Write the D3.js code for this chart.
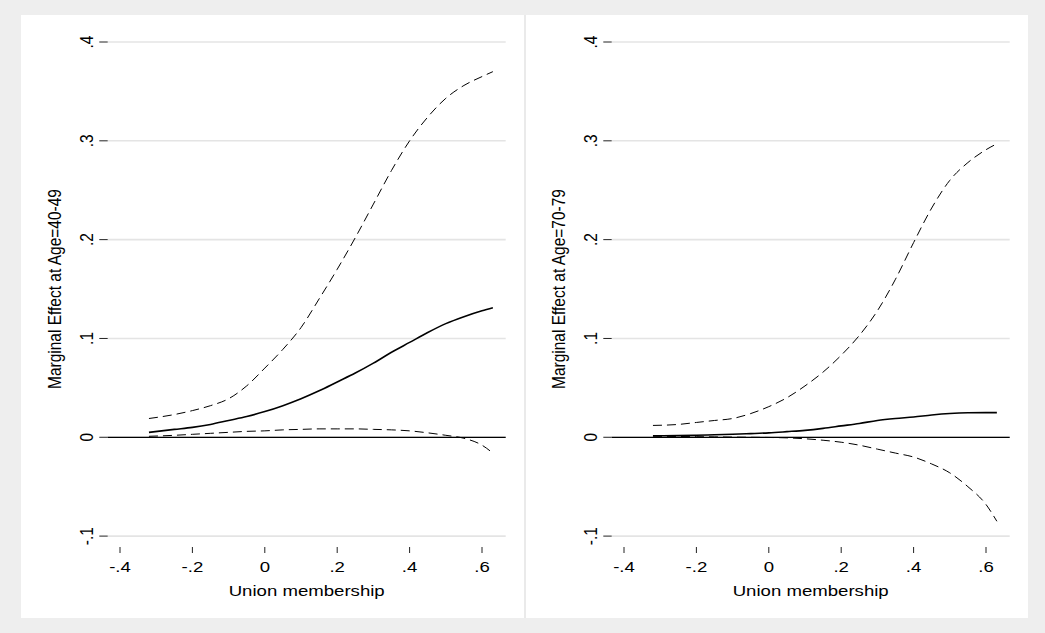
<!DOCTYPE html>
<html>
<head>
<meta charset="utf-8">
<script src="https://cdn.jsdelivr.net/npm/d3@7"></script>
<style>
  html, body { margin: 0; padding: 0; background: #eeeeee; }
  svg { display: block; }
  text { font-family: "Liberation Sans", Arial, Helvetica, sans-serif; fill: #000; }
</style>
</head>
<body>
<svg id="chart" width="1045" height="633"></svg>
<script>
// ---------------- data ----------------
const unionX = [-0.32, -0.25, -0.2, -0.15, -0.1, -0.05, 0, 0.05, 0.1, 0.15, 0.2, 0.25, 0.3, 0.35, 0.4, 0.45, 0.5, 0.55, 0.6, 0.63];

// Panel 1: Age 40-49
const age4049Effect = [0.005, 0.008, 0.010, 0.013, 0.017, 0.021, 0.026, 0.032, 0.039, 0.047, 0.056, 0.065, 0.075, 0.086, 0.096, 0.106, 0.115, 0.122, 0.128, 0.131];
const age4049Upper  = [0.019, 0.023, 0.027, 0.032, 0.039, 0.052, 0.070, 0.089, 0.111, 0.140, 0.170, 0.202, 0.236, 0.270, 0.300, 0.324, 0.343, 0.356, 0.365, 0.370];
const age4049Lower  = [0.001, 0.002, 0.003, 0.004, 0.005, 0.006, 0.0065, 0.0075, 0.008, 0.0085, 0.0085, 0.0085, 0.008, 0.0075, 0.0065, 0.0045, 0.002, -0.001, -0.008, -0.016];

// Panel 2: Age 70-79
const age7079Effect = [0.0015, 0.0017, 0.002, 0.0025, 0.003, 0.0037, 0.0045, 0.0057, 0.007, 0.009, 0.0115, 0.014, 0.017, 0.019, 0.0205, 0.0225, 0.024, 0.0248, 0.025, 0.025];
const age7079Upper  = [0.012, 0.013, 0.015, 0.017, 0.019, 0.024, 0.031, 0.040, 0.052, 0.066, 0.083, 0.103, 0.128, 0.160, 0.197, 0.232, 0.260, 0.278, 0.291, 0.297];
const age7079Lower  = [0.001, 0.0008, 0.0006, 0.0004, 0.0002, 0.0, -0.0002, -0.0006, -0.0015, -0.003, -0.005, -0.008, -0.012, -0.016, -0.020, -0.027, -0.036, -0.050, -0.068, -0.085];

const xTicks = [-0.4, -0.2, 0, 0.2, 0.4, 0.6];
const xTickLabels = ["-.4", "-.2", "0", ".2", ".4", ".6"];
const yTicks = [-0.1, 0, 0.1, 0.2, 0.3, 0.4];
const yTickLabels = ["-.1", "0", ".1", ".2", ".3", ".4"];
const xTitle = "Union membership";
const yTitles = ["Marginal Effect at Age=40-49", "Marginal Effect at Age=70-79"];

// ---------------- layout ----------------
const svg = d3.select("#chart");
const STRETCH = 1.2;     // horizontal text stretch of the source image
const FONT = 15.5;

svg.append("rect").attr("x", 0).attr("y", 0).attr("width", 1045).attr("height", 633).attr("fill", "#eeeeee");
svg.append("rect").attr("x", 21).attr("y", 15).attr("width", 1007).attr("height", 603).attr("fill", "#ffffff");
svg.append("rect").attr("x", 524).attr("y", 15).attr("width", 2).attr("height", 603).attr("fill", "#eaeaea");

const panels = [
  { dx: 0,   title: yTitles[0], mid: age4049Effect, up: age4049Upper, lo: age4049Lower },
  { dx: 504, title: yTitles[1], mid: age7079Effect, up: age7079Upper, lo: age7079Lower }
];

const y = d3.scaleLinear().domain([-0.1, 0.4]).range([536.1, 42]);

panels.forEach(p => {
  const g = svg.append("g").attr("transform", `translate(${p.dx},0)`);
  const x = d3.scaleLinear().domain([-0.4, 0.6]).range([120, 482]);
  const plotL = 107.7, plotR = 505.7;

  // gridlines
  g.selectAll(".grid").data(yTicks).enter().append("line")
    .attr("x1", plotL).attr("x2", plotR)
    .attr("y1", d => y(d)).attr("y2", d => y(d))
    .attr("stroke", "#e4e4e4").attr("stroke-width", 1.6);

  // y ticks
  g.selectAll(".ytick").data(yTicks).enter().append("line")
    .attr("x1", 99.3).attr("x2", 107.7)
    .attr("y1", d => y(d)).attr("y2", d => y(d))
    .attr("stroke", "#222").attr("stroke-width", 1);

  g.selectAll(".ylab").data(yTicks).enter().append("text")
    .attr("transform", d => `translate(93.3,${y(d)}) scale(${STRETCH},1) rotate(-90)`)
    .attr("text-anchor", "middle")
    .style("font-size", FONT + "px")
    .text((d, i) => yTickLabels[i]);

  // x ticks
  g.selectAll(".xtick").data(xTicks).enter().append("line")
    .attr("x1", d => x(d)).attr("x2", d => x(d))
    .attr("y1", 547).attr("y2", 553)
    .attr("stroke", "#222").attr("stroke-width", 1);

  g.selectAll(".xlab").data(xTicks).enter().append("text")
    .attr("transform", d => `translate(${x(d)},572) scale(${STRETCH},1)`)
    .attr("text-anchor", "middle")
    .style("font-size", FONT + "px")
    .text((d, i) => xTickLabels[i]);

  // axis titles
  g.append("text")
    .attr("transform", `translate(${(plotL + plotR) / 2},595.5) scale(${STRETCH},1)`)
    .attr("text-anchor", "middle")
    .style("font-size", FONT + "px")
    .text(xTitle);

  g.append("text")
    .attr("transform", `translate(61,${y(0.15)}) scale(${STRETCH},1) rotate(-90)`)
    .attr("text-anchor", "middle")
    .style("font-size", FONT + "px")
    .text(p.title);

  // zero line
  g.append("line")
    .attr("x1", plotL).attr("x2", plotR)
    .attr("y1", y(0)).attr("y2", y(0))
    .attr("stroke", "#000").attr("stroke-width", 1.3);

  const line = vals => d3.line()
    .x((d, i) => x(unionX[i]))
    .y(d => y(d))
    .curve(d3.curveMonotoneX)(vals);

  g.append("path").attr("d", line(p.up)).attr("fill", "none")
    .attr("stroke", "#000").attr("stroke-width", 1).attr("stroke-dasharray", "9,5");
  g.append("path").attr("d", line(p.lo)).attr("fill", "none")
    .attr("stroke", "#000").attr("stroke-width", 1).attr("stroke-dasharray", "9,5");
  g.append("path").attr("d", line(p.mid)).attr("fill", "none")
    .attr("stroke", "#000").attr("stroke-width", 1.6);
});
</script>
</body>
</html>
